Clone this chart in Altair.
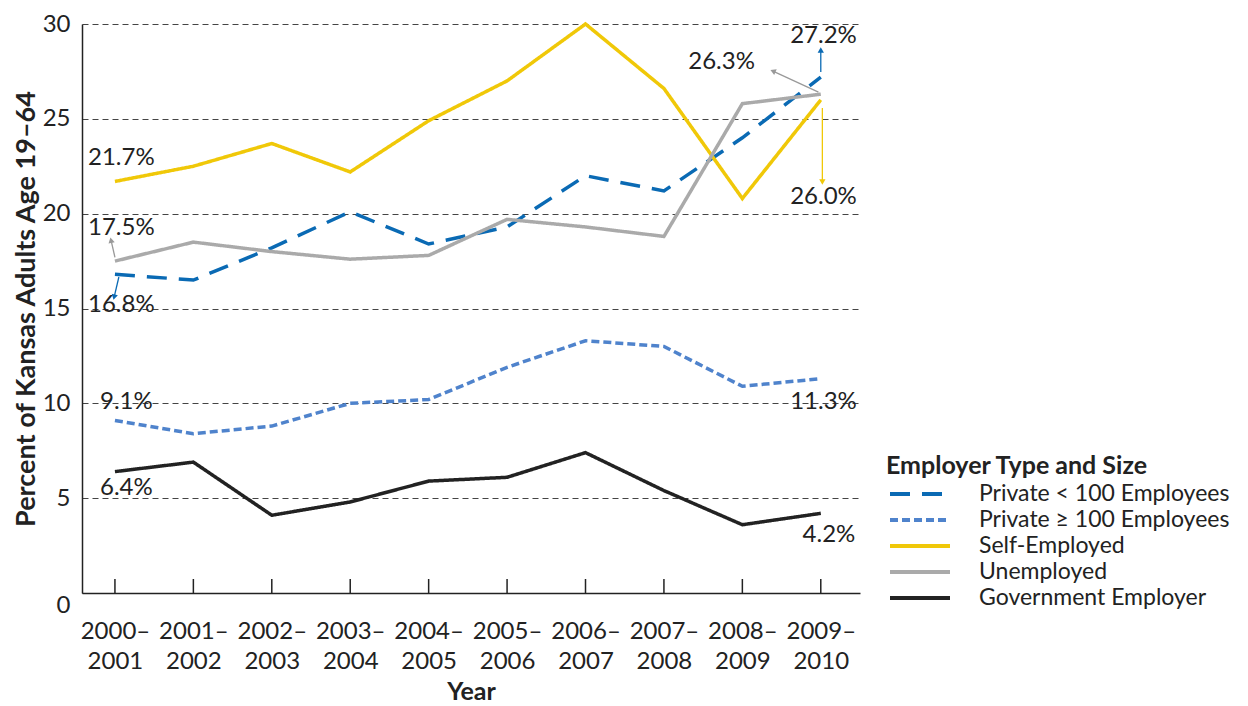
import altair as alt
import pandas as pd

# ---------------- data ----------------
periods = ["2000–2001", "2001–2002", "2002–2003", "2003–2004", "2004–2005",
           "2005–2006", "2006–2007", "2007–2008", "2008–2009", "2009–2010"]
series_names = ["Private < 100 Employees", "Private ≥ 100 Employees",
                "Self-Employed", "Unemployed", "Government Employer"]
private_small = [16.8, 16.5, 18.2, 20.1, 18.4, 19.3, 22.0, 21.2, 24.0, 27.2]
private_large = [9.1, 8.4, 8.8, 10.0, 10.2, 11.9, 13.3, 13.0, 10.9, 11.3]
self_employed = [21.7, 22.5, 23.7, 22.2, 24.9, 27.0, 30.0, 26.6, 20.8, 26.0]
unemployed = [17.5, 18.5, 18.0, 17.6, 17.8, 19.7, 19.3, 18.8, 25.8, 26.3]
government = [6.4, 6.9, 4.1, 4.8, 5.9, 6.1, 7.4, 5.4, 3.6, 4.2]
y_ticks = [0, 5, 10, 15, 20, 25, 30]

colors = ["#0a6ab4", "#4f83cc", "#f0c808", "#aaaaaa", "#222222"]
dashes = [[20, 12], [8, 4], [1, 0], [1, 0], [1, 0]]

rows = []
for name, vals in zip(series_names,
                      [private_small, private_large, self_employed, unemployed, government]):
    for i, v in enumerate(vals):
        rows.append({"series": name, "idx": i, "value": v})
df = pd.DataFrame(rows)

# annotation labels (text, x index, y value, side)
ann_text = ["21.7%", "17.5%", "16.8%", "9.1%", "6.4%",
            "27.2%", "26.3%", "26.0%", "11.3%", "4.2%"]
ann_x = [-0.344, -0.344, -0.344, -0.19, -0.19, 9.46, 8.16, 9.46, 9.46, 9.44]
ann_y = [22.93, 19.24, 15.18, 10.07, 5.54, 29.37, 28.0, 20.88, 10.07, 3.06]
ann_side = ["left"] * 5 + ["right"] * 5
ann = pd.DataFrame({"text": ann_text, "x": ann_x, "y": ann_y, "side": ann_side})

# arrows: start -> tip
arr = pd.DataFrame({
    "x": [0.0, 0.05, 9.0, 8.97, 9.02],
    "y": [17.7, 16.66, 27.47, 26.41, 25.57],
    "x2": [-0.05, -0.01, 9.0, 8.39, 9.02],
    "y2": [18.6, 15.6, 28.63, 27.52, 21.67],
    "col": ["#999999", "#0a6ab4", "#0a6ab4", "#999999", "#f0c808"],
    "ang": [347, 194, 0, 294, 180],
})

ticks_df = pd.DataFrame({"idx": list(range(len(periods)))})

W, H = 778, 569
FONT = "Lato"
xscale = alt.Scale(domain=[-0.42, 9.50], nice=False, zero=False)
yscale = alt.Scale(domain=[0, 30], nice=False, zero=True)

label_expr = "[" + ",".join("['%s','%s']" % (p[:5], p[5:]) for p in periods) + "][datum.value]"

legend = alt.Legend(
    title="Employer Type and Size", orient="none", legendX=804, legendY=430,
    titleFontSize=25, titleFontWeight="bold", titleColor="#222", titleFont=FONT,
    titleLimit=500,
    labelFontSize=23, labelColor="#222", labelFont=FONT, labelOffset=47,
    symbolType="M-3,0H3", symbolSize=400, symbolStrokeWidth=4, symbolOffset=22,
    rowPadding=2, titlePadding=3, labelLimit=400,
)

lines = alt.Chart(df).mark_line(strokeWidth=3.5).encode(
    x=alt.X("idx:Q", scale=xscale, axis=alt.Axis(
        values=list(range(10)), labelExpr=label_expr, title="Year", grid=False,
        ticks=False, domainColor="#222", domainWidth=1.5,
        labelFontSize=24, labelFont=FONT, labelColor="#222", labelPadding=26,
        labelLineHeight=30, labelFlush=False, labelOverlap=False,
        titleFontSize=25, titleFont=FONT, titleFontWeight="bold", titleColor="#222",
        titlePadding=6)),
    y=alt.Y("value:Q", scale=yscale, axis=alt.Axis(
        values=y_ticks, title="Percent of Kansas Adults Age 19–64", grid=True,
        gridDash=[6, 4], gridColor="#444", gridWidth=1, ticks=False,
        domainColor="#222", domainWidth=1.5,
        labelFontSize=24, labelFont=FONT, labelColor="#222", labelPadding=12,
        labelOffset={"condition": {"test": "datum.value === 0", "value": 12}, "value": 0},
        titleFontSize=27, titleFont=FONT, titleFontWeight="bold", titleColor="#222",
        titlePadding=2)),
    color=alt.Color("series:N", scale=alt.Scale(domain=series_names, range=colors), legend=legend),
    strokeDash=alt.StrokeDash("series:N", scale=alt.Scale(domain=series_names, range=dashes), legend=legend),
)

inner_ticks = alt.Chart(ticks_df).mark_rule(color="#222", strokeWidth=1.5).encode(
    x=alt.X("idx:Q", scale=xscale),
    y=alt.value(H),
    y2=alt.value(H - 14),
)

labels_left = alt.Chart(ann).transform_filter(alt.datum.side == "left").mark_text(
    fontSize=24, font=FONT, color="#222", baseline="middle", align="left").encode(
    x=alt.X("x:Q", scale=xscale),
    y=alt.Y("y:Q", scale=yscale),
    text="text:N",
)
labels_right = alt.Chart(ann).transform_filter(alt.datum.side == "right").mark_text(
    fontSize=24, font=FONT, color="#222", baseline="middle", align="right").encode(
    x=alt.X("x:Q", scale=xscale),
    y=alt.Y("y:Q", scale=yscale),
    text="text:N",
)

arrow_lines = alt.Chart(arr).mark_rule(strokeWidth=1.3).encode(
    x=alt.X("x:Q", scale=xscale), y=alt.Y("y:Q", scale=yscale),
    x2="x2:Q", y2="y2:Q",
    color=alt.Color("col:N", scale=None),
)
arrow_heads = alt.Chart(arr).mark_point(shape="triangle-up", filled=True, size=40, opacity=1).encode(
    x=alt.X("x2:Q", scale=xscale), y=alt.Y("y2:Q", scale=yscale),
    color=alt.Color("col:N", scale=None),
    angle=alt.Angle("ang:Q", scale=None),
)

chart = alt.layer(lines, inner_ticks, arrow_lines, arrow_heads, labels_left, labels_right).properties(
    width=W, height=H,
    padding={"left": 74, "top": 16, "right": 380, "bottom": 113},
    autosize="none",
).configure(font=FONT).configure_view(stroke=None)

chart.save("out.html", embed_options={"renderer": "svg", "actions": False})
